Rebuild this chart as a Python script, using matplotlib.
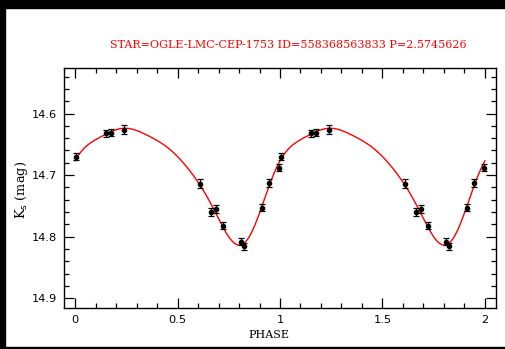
import numpy as np
import matplotlib.pyplot as plt
from matplotlib.patches import Rectangle
from matplotlib.ticker import MultipleLocator

# --- Phased K_s photometry (one cycle) ---
phase = np.array([0.005, 0.152, 0.175, 0.240, 0.610, 0.665, 0.688,
                  0.720, 0.808, 0.826, 0.914, 0.946, 0.996])
mag = np.array([14.670, 14.632, 14.631, 14.626, 14.714, 14.760, 14.755,
                14.782, 14.808, 14.816, 14.753, 14.713, 14.688])
err = np.array([0.006, 0.006, 0.006, 0.007, 0.007, 0.007, 0.006,
                0.006, 0.006, 0.006, 0.006, 0.006, 0.006])

star = "OGLE-LMC-CEP-1753"
star_id = "558368563833"
period = 2.5745626

# --- Fourier light-curve model (mean, cos and sin terms for k = 1..4) ---
mean_mag = 14.69446
fourier_cos = [0.01191, -0.01939, -0.00842, -0.00172]
fourier_sin = [-0.08487, -0.01498, 0.00334, 0.00237]

grid = np.linspace(0, 2, 500)
fit = np.full_like(grid, mean_mag)
for k, (a, b) in enumerate(zip(fourier_cos, fourier_sin), start=1):
    fit += a * np.cos(2 * np.pi * k * grid) + b * np.sin(2 * np.pi * k * grid)

# --- Plot two cycles ---
fig = plt.figure(figsize=(5.06, 3.49), dpi=100)
ax = fig.add_axes([64 / 506, 1 - 308 / 349, 432 / 506, 240 / 349])

ax.plot(grid, fit, color="red", lw=1.0, zorder=2)
for shift in (0, 1):
    ax.errorbar(phase + shift, mag, yerr=err, fmt="o", color="black",
                ms=3, elinewidth=0.9, capsize=2.2, capthick=0.9, zorder=3)

ax.set_xlim(-0.054, 2.054)
ax.set_ylim(14.916, 14.526)
ax.xaxis.set_major_locator(MultipleLocator(0.5))
ax.xaxis.set_minor_locator(MultipleLocator(0.1))
ax.yaxis.set_major_locator(MultipleLocator(0.1))
ax.yaxis.set_minor_locator(MultipleLocator(0.02))
ax.xaxis.set_major_formatter(lambda v, p: f"{v:g}")
ax.yaxis.set_major_formatter(lambda v, p: f"{v:.1f}")
ax.tick_params(which="both", direction="in", top=True, right=True,
               labelsize=8.2, width=0.9, pad=5)
ax.tick_params(which="major", length=7)
ax.tick_params(which="minor", length=3.5)
for s in ax.spines.values():
    s.set_linewidth(1.0)

fig.text(269 / 506, 1 - 335 / 349, "PHASE", ha="center", va="center",
         family="DejaVu Serif", fontsize=8)
fig.text(22 / 506, 1 - 190 / 349, r"K$_{\rm s}$ (mag)", ha="center",
         va="center", rotation=90, family="DejaVu Serif", fontsize=9.3)
fig.text(288 / 506, 1 - 45 / 349,
         f"STAR={star} ID={star_id} P={period}", ha="center", va="center",
         color="red", family="DejaVu Serif", fontsize=8.0)

# black frame around the page
fig.patches.append(Rectangle((0, 1 - 8 / 349), 1, 8 / 349, color="black",
                             transform=fig.transFigure, figure=fig))
fig.patches.append(Rectangle((0, 0), 5 / 506, 1, color="black",
                             transform=fig.transFigure, figure=fig))
fig.patches.append(Rectangle((0, 0), 1, 2.5 / 349, color="black",
                             transform=fig.transFigure, figure=fig))

fig.savefig("out.png", dpi=100)
